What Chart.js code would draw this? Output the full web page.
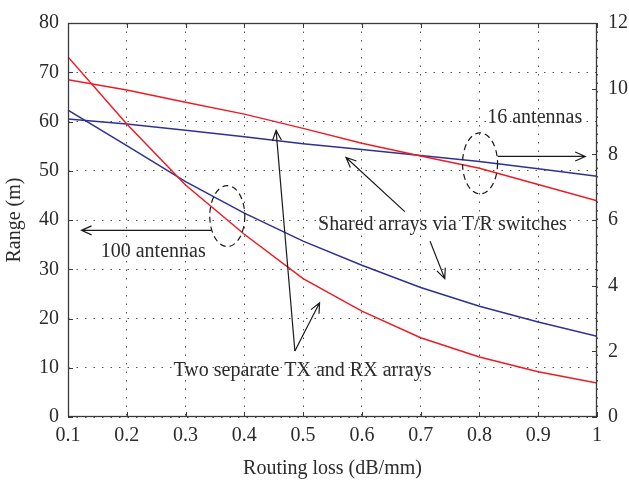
<!DOCTYPE html>
<html>
<head>
<meta charset="utf-8">
<script src="https://cdn.jsdelivr.net/npm/chart.js@4"></script>
<style>
  html, body { margin: 0; padding: 0; background: #fff; }
  #wrap { width: 629px; height: 483px; }
</style>
</head>
<body>
<div id="wrap"><canvas id="rangeChart" width="629" height="483"></canvas></div>
<script>
// Routing loss (dB/mm) on the x axis
const routingLoss = [0.1, 0.2, 0.3, 0.4, 0.5, 0.6, 0.7, 0.8, 0.9, 1.0];

// Range (m)
const separate100 = [73.1, 59.5, 47.1, 37.1, 28.1, 21.5, 16.1, 12.2, 9.2, 6.9];
const shared100 = [62.3, 55.1, 47.8, 41.4, 35.7, 30.8, 26.3, 22.5, 19.3, 16.4];
const separate16 = [68.5, 66.4, 63.9, 61.5, 58.6, 55.6, 53.0, 50.5, 47.2, 43.9];
const shared16 = [60.5, 59.5, 58.2, 56.9, 55.5, 54.3, 53.1, 51.9, 50.4, 48.9];

const RED = 'rgb(237, 28, 36)';
const BLUE = 'rgb(46, 49, 146)';
const INK = '#2b2b2b';
const FONT = '"Liberation Serif", "Times New Roman", serif';

// Annotation layout, in data units (x = routing loss, y = left axis)
const notes = [
    { text: '100 antennas', x: 0.245, y: 33.6 },
    { text: '16 antennas', x: 0.894, y: 60.8 },
    { text: 'Shared arrays via T/R switches', x: 0.737, y: 39.1 },
    { text: 'Two separate TX and RX arrays', x: 0.499, y: 9.4 }
];
const arrows = [
    [0.344, 37.9, 0.123, 37.9],
    [0.831, 52.9, 0.980, 52.9],
    [0.673, 41.7, 0.573, 52.7],
    [0.716, 35.7, 0.741, 28.1],
    [0.486, 13.4, 0.454, 58.2],
    [0.486, 13.4, 0.528, 23.2]
];
const ellipses = [
    { x: 0.371, y: 40.8, rx: 0.0298, ry: 6.2 },
    { x: 0.801, y: 51.5, rx: 0.0298, ry: 6.2 }
];

function toPoints(values) {
    return routingLoss.map((x, i) => ({ x: x, y: values[i] }));
}

function lineSet(label, values, color) {
    return {
        label: label,
        data: toPoints(values),
        borderColor: color,
        borderWidth: 1.5,
        pointRadius: 0,
        tension: 0,
        fill: false,
        yAxisID: 'y'
    };
}

// Frame, inward ticks, ellipses, arrows and labels
const annotate = {
    id: 'annotate',
    afterDatasetsDraw(chart) {
        const ctx = chart.ctx;
        const area = chart.chartArea;
        const sx = chart.scales.x;
        const sy = chart.scales.y;
        const sy2 = chart.scales.y2;

        ctx.save();
        ctx.strokeStyle = '#3a3a3a';
        ctx.lineWidth = 1.3;
        ctx.strokeRect(area.left + 0.5, area.top + 0.5, area.right - area.left - 1, area.bottom - area.top - 1);

        const tick = 5;
        ctx.lineWidth = 1;
        ctx.beginPath();
        sx.ticks.forEach(t => {
            const px = Math.round(sx.getPixelForValue(t.value)) + 0.5;
            ctx.moveTo(px, area.bottom);
            ctx.lineTo(px, area.bottom - tick);
            ctx.moveTo(px, area.top);
            ctx.lineTo(px, area.top + tick);
        });
        sy.ticks.forEach(t => {
            const py = Math.round(sy.getPixelForValue(t.value)) + 0.5;
            ctx.moveTo(area.left, py);
            ctx.lineTo(area.left + tick, py);
        });
        sy2.ticks.forEach(t => {
            const py = Math.round(sy2.getPixelForValue(t.value)) + 0.5;
            ctx.moveTo(area.right, py);
            ctx.lineTo(area.right - tick, py);
        });
        ctx.stroke();

        // dashed ellipses
        ctx.strokeStyle = '#1a1a1a';
        ctx.lineWidth = 1.2;
        ctx.setLineDash([6, 4]);
        ellipses.forEach(e => {
            const cx = sx.getPixelForValue(e.x);
            const cy = sy.getPixelForValue(e.y);
            const rx = Math.abs(sx.getPixelForValue(e.x + e.rx) - cx);
            const ry = Math.abs(sy.getPixelForValue(e.y + e.ry) - cy);
            ctx.beginPath();
            ctx.ellipse(cx, cy, rx, ry, 0, 0, Math.PI * 2);
            ctx.stroke();
        });
        ctx.setLineDash([]);

        // arrows with open heads
        arrows.forEach(a => {
            const x1 = sx.getPixelForValue(a[0]);
            const y1 = sy.getPixelForValue(a[1]);
            const x2 = sx.getPixelForValue(a[2]);
            const y2 = sy.getPixelForValue(a[3]);
            const ang = Math.atan2(y2 - y1, x2 - x1);
            const head = 11;
            const spread = 0.42;
            ctx.beginPath();
            ctx.moveTo(x1, y1);
            ctx.lineTo(x2, y2);
            ctx.moveTo(x2 - head * Math.cos(ang - spread), y2 - head * Math.sin(ang - spread));
            ctx.lineTo(x2, y2);
            ctx.lineTo(x2 - head * Math.cos(ang + spread), y2 - head * Math.sin(ang + spread));
            ctx.stroke();
        });

        // text labels
        ctx.fillStyle = INK;
        ctx.font = '20px ' + FONT;
        ctx.textAlign = 'center';
        ctx.textBaseline = 'middle';
        notes.forEach(n => {
            ctx.fillText(n.text, sx.getPixelForValue(n.x), sy.getPixelForValue(n.y));
        });
        ctx.restore();
    }
};

const tickFont = { family: FONT, size: 20 };
const gridStyle = { color: '#555', lineWidth: 1, drawTicks: false };
const dotted = { display: false, dash: [1.5, 7] };

new Chart(document.getElementById('rangeChart'), {
    type: 'line',
    data: {
        datasets: [
            lineSet('Two separate TX and RX arrays (100 antennas)', separate100, RED),
            lineSet('Shared arrays via T/R switches (100 antennas)', shared100, BLUE),
            lineSet('Two separate TX and RX arrays (16 antennas)', separate16, RED),
            lineSet('Shared arrays via T/R switches (16 antennas)', shared16, BLUE)
        ]
    },
    options: {
        responsive: false,
        animation: false,
        layout: { padding: { top: 17, left: 0, right: 0, bottom: 0 } },
        plugins: {
            legend: { display: false },
            tooltip: { enabled: false }
        },
        scales: {
            x: {
                type: 'linear',
                min: 0.1,
                max: 1,
                grid: gridStyle,
                border: dotted,
                ticks: {
                    stepSize: 0.1,
                    padding: 7,
                    color: INK,
                    font: tickFont,
                    maxRotation: 0,
                    callback: v => String(+v.toFixed(1))
                },
                title: {
                    display: true,
                    text: 'Routing loss (dB/mm)',
                    color: INK,
                    font: tickFont,
                    padding: { top: 0, bottom: 2 }
                },
                afterFit: scale => { scale.height = 66; }
            },
            y: {
                position: 'left',
                min: 0,
                max: 80,
                grid: gridStyle,
                border: dotted,
                ticks: { stepSize: 10, padding: 9, color: INK, font: tickFont },
                title: {
                    display: true,
                    text: 'Range (m)',
                    color: INK,
                    font: tickFont,
                    padding: { top: 3, bottom: 0 }
                },
                afterFit: scale => { scale.width = 68; }
            },
            y2: {
                position: 'right',
                min: 0,
                max: 12,
                grid: { display: false, drawTicks: false },
                border: { display: false },
                ticks: { stepSize: 2, padding: 11, color: INK, font: tickFont },
                afterFit: scale => { scale.width = 32; }
            }
        }
    },
    plugins: [annotate]
});
</script>
</body>
</html>
